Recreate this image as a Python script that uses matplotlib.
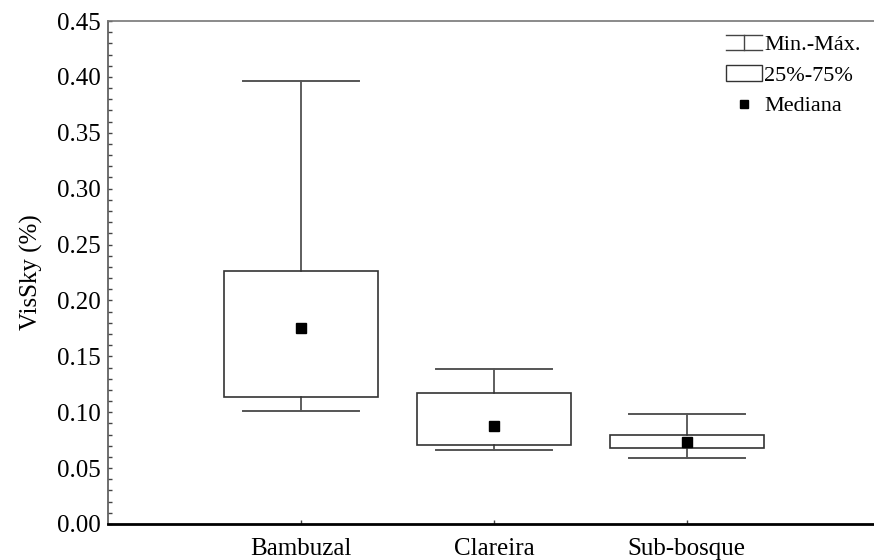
import matplotlib
matplotlib.use("Agg")
import matplotlib.pyplot as plt
from matplotlib.legend_handler import HandlerBase
from matplotlib.lines import Line2D
from matplotlib.patches import Rectangle
from matplotlib.ticker import MultipleLocator, FormatStrFormatter

plt.rcParams['font.family'] = ['Liberation Serif', 'DejaVu Serif']
plt.rcParams['font.size'] = 18

categories = ["Bambuzal", "Clareira", "Sub-bosque"]
minimum = [0.101, 0.066, 0.059]
q25 = [0.114, 0.071, 0.068]
median = [0.175, 0.088, 0.073]
q75 = [0.226, 0.117, 0.080]
maximum = [0.396, 0.139, 0.098]
legend_labels = ["Min.-Máx.", "25%-75%", "Mediana"]
y_label = "VisSky (%)"

fig = plt.figure(figsize=(8.74, 5.6), dpi=100)
ax = fig.add_axes([0.1236, 0.0643, 0.8764, 0.8982])

positions = list(range(1, len(categories) + 1))
stats = [
    dict(med=m, q1=a, q3=b, whislo=lo, whishi=hi, label=c)
    for c, lo, a, m, b, hi in zip(categories, minimum, q25, median, q75, maximum)
]
ax.bxp(stats, positions=positions, widths=0.8, capwidths=0.6,
       showfliers=False, patch_artist=True,
       boxprops=dict(facecolor="white", edgecolor="#333333", linewidth=1.2),
       whiskerprops=dict(color="#333333", linewidth=1.1),
       capprops=dict(color="#555555", linewidth=1.4),
       medianprops=dict(linewidth=0))
ax.plot(positions, median, linestyle="none", marker="s", markersize=7,
        color="black", zorder=5)

ax.set_xlim(0, 3.97)
ax.set_ylim(0, 0.45)
ax.yaxis.set_major_locator(MultipleLocator(0.05))
ax.yaxis.set_minor_locator(MultipleLocator(0.01))
ax.yaxis.set_major_formatter(FormatStrFormatter("%.2f"))
ax.set_xticks(positions)
ax.set_xticklabels(categories)
ax.tick_params(axis="both", which="both", direction="in", length=3,
               width=1, color="#444444")
ax.tick_params(axis="y", pad=5.5)
ax.tick_params(axis="x", pad=10)
ax.set_ylabel(y_label, labelpad=10)

ax.spines["right"].set_visible(False)
ax.spines["top"].set_color("#777777")
ax.spines["top"].set_linewidth(1.2)
ax.spines["left"].set_color("#555555")
ax.spines["left"].set_linewidth(1.2)
ax.spines["bottom"].set_color("black")
ax.spines["bottom"].set_linewidth(2)


class RangeHandler(HandlerBase):
    def create_artists(self, legend, orig, xd, yd, w, h, fs, trans):
        top, bot = yd + h * 1.0, yd + h * 0.0
        mid = xd + w / 2
        return [Line2D([xd, xd + w], [top, top], color="#444444", lw=1.0, transform=trans),
                Line2D([xd, xd + w], [bot, bot], color="#444444", lw=1.0, transform=trans),
                Line2D([mid, mid], [bot, top], color="#444444", lw=1.0, transform=trans)]


class BoxHandler(HandlerBase):
    def create_artists(self, legend, orig, xd, yd, w, h, fs, trans):
        return [Rectangle((xd, yd), w, h * 1.0, facecolor="white",
                          edgecolor="#333333", lw=1.0, transform=trans)]


class MedianHandler(HandlerBase):
    def create_artists(self, legend, orig, xd, yd, w, h, fs, trans):
        return [Line2D([xd + w / 2], [yd + h / 2], marker="s", markersize=6,
                       color="black", linestyle="none", transform=trans)]


h_range, h_box, h_med = object(), object(), object()
ax.legend([h_range, h_box, h_med], legend_labels,
          handler_map={h_range: RangeHandler(), h_box: BoxHandler(), h_med: MedianHandler()},
          loc="upper right", bbox_to_anchor=(0.997, 0.995), frameon=False,
          fontsize=16, handlelength=1.6, handleheight=0.7, handletextpad=0.1,
          labelspacing=0.45, borderpad=0.2, borderaxespad=0.3)

fig.savefig("out.png", dpi=100)
